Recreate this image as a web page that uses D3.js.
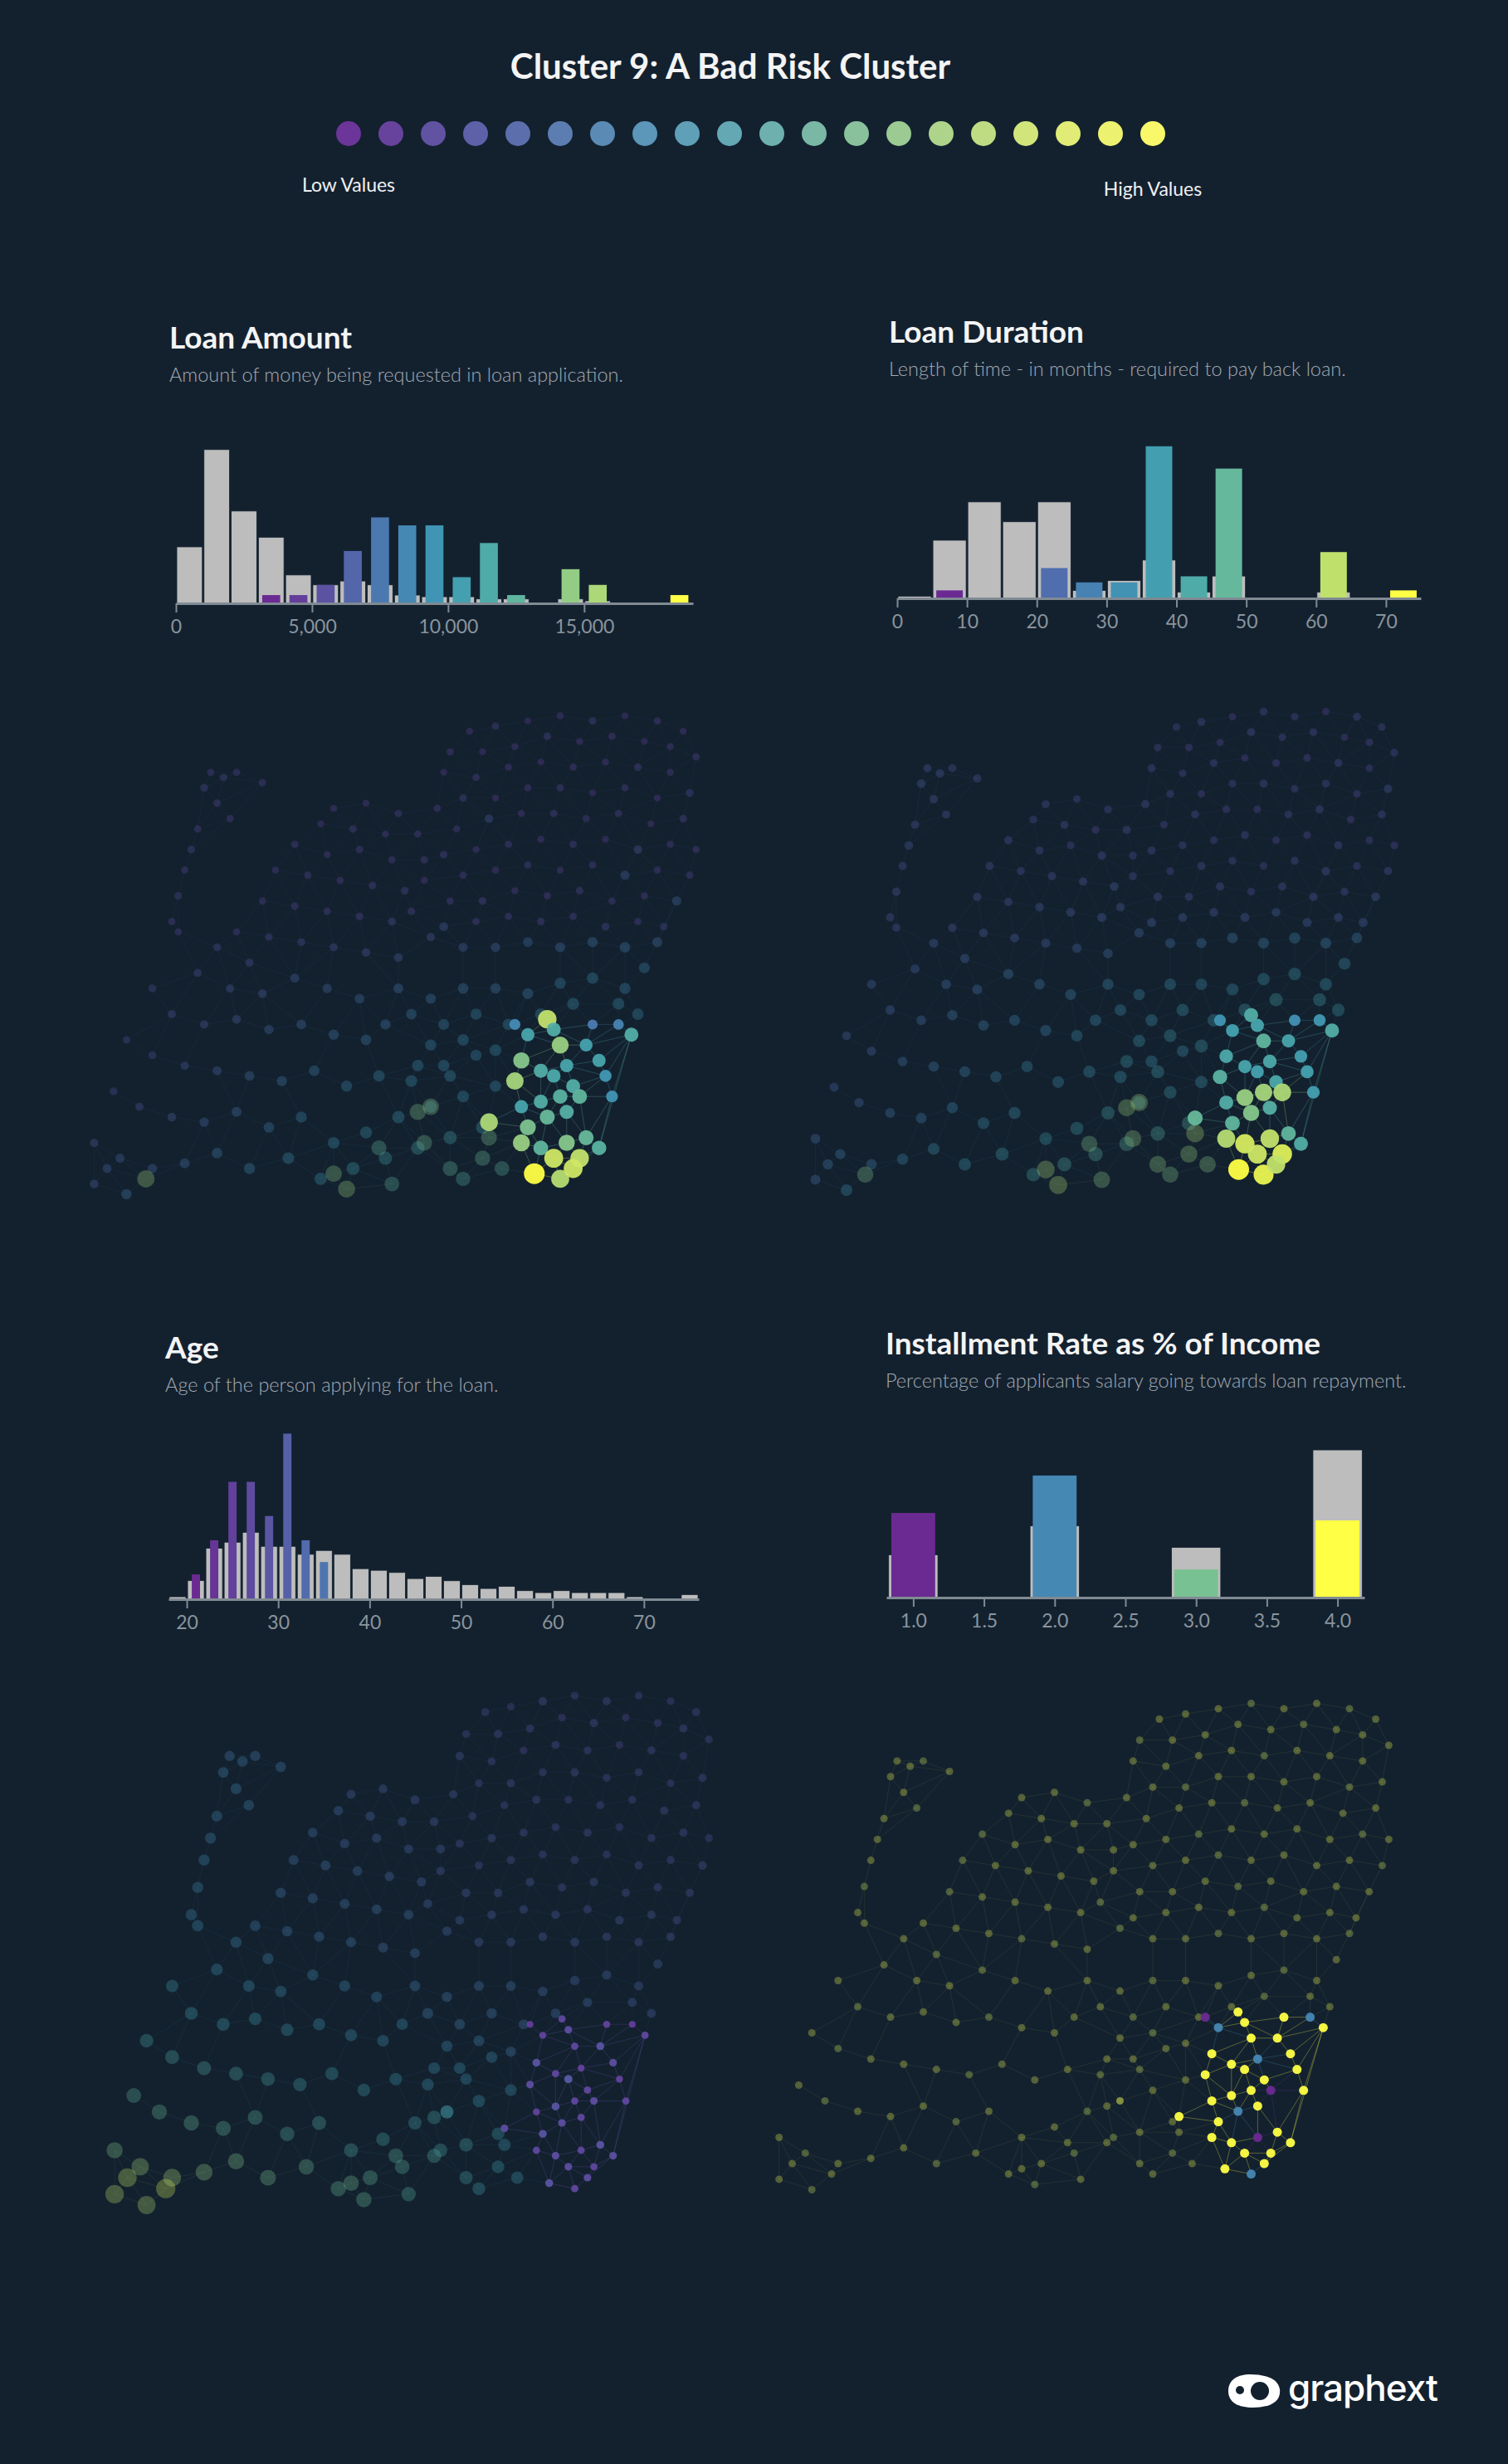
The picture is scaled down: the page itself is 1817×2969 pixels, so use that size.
<!DOCTYPE html>
<html><head><meta charset="utf-8">
<script src="https://cdn.jsdelivr.net/npm/d3@7"></script>
<style>body{margin:0;background:#13212f;}svg{display:block;}</style>
</head><body>
<script>
// ---------- DATA ----------
const titleText = "Cluster 9: A Bad Risk Cluster";
const legendSteps = d3.range(20);
// Loan amount: bins of 1000
const amountBins = d3.range(19).map(k => k * 1000);
const amountAll =     [205,558,335,240,103,67,81,67,30,24,24,16,16,0,16,9,0,0,0];
const amountCluster = [0,0,0,30,30,67,190,312,283,283,95,219,30,0,124,67,0,0,30];
const amountTicks = [0,5000,10000,15000];
// Loan duration: bins of 5 months
const durationBins = d3.range(15).map(k => k * 5);
const durationAll =     [8,211,350,278,350,29,65,139,23,81,0,0,23,0,0];
const durationCluster = [0,29,0,0,110,58,58,552,80,471,0,0,168,0,29];
const durationTicks = [0,10,20,30,40,50,60,70];
// Age: bins of 2 years from 18
const ageBins = d3.range(18, 76, 2);
const ageAll =     [9,68,185,207,243,192,192,163,177,163,111,105,97,75,83,67,53,39,47,31,24,31,24,24,24,9,0,0,17];
const ageCluster = [0,90,214,426,426,302,601,214,135,0,0,0,0,0,0,0,0,0,0,0,0,0,0,0,0,0,0,0,0];
const ageTicks = [20,30,40,50,60,70];
// Installment rate
const rateCats = [1,2,3,4];
const rateAll =     [155,260,182,536];
const rateCluster = [307,443,102,280];
const rateTicks = [1.0,1.5,2.0,2.5,3.0,3.5,4.0];

// Network nodes: [u, v, amount, duration, age, rate] (0-100 layout units, values 0-1)
const nodesBase = [
[61,5,.08,.12,.15,.95],[65,4,.10,.15,.12,.95],[70,3,.06,.10,.18,.95],[75,2,.09,.14,.14,.9],[80,3,.12,.12,.16,.95],[85,2,.07,.10,.13,.95],[90,3,.10,.15,.12,.9],[94,5,.08,.12,.15,.95],[96,10,.11,.14,.14,.95],[92,8,.09,.12,.16,.95],
[88,7,.07,.10,.14,.95],[83,6,.10,.14,.12,.9],[78,7,.08,.12,.17,.95],[73,6,.12,.16,.13,.95],[68,8,.09,.11,.15,.95],[63,9,.07,.13,.16,.95],[58,9,.10,.12,.14,.9],[57,13,.08,.15,.18,.95],[62,14,.11,.12,.15,.95],[67,12,.09,.14,.13,.95],
[72,11,.07,.10,.16,.95],[77,12,.10,.13,.14,.9],[82,11,.08,.12,.12,.95],[87,12,.12,.15,.15,.95],[92,13,.09,.11,.14,.95],[95,17,.14,.18,.16,.95],[90,18,.08,.12,.13,.9],[85,16,.10,.14,.15,.95],[80,17,.07,.12,.14,.95],[75,16,.11,.15,.17,.95],
[70,16,.09,.13,.15,.95],[65,18,.08,.11,.16,.9],[60,18,.12,.14,.14,.95],[56,20,.10,.16,.18,.95],[59,24,.09,.12,.15,.95],[64,22,.18,.15,.14,.95],[69,21,.08,.13,.16,.95],[74,21,.11,.12,.13,.9],[79,22,.09,.14,.15,.95],[84,21,.10,.16,.14,.95],
[89,23,.08,.12,.17,.95],[94,22,.12,.15,.15,.95],[96,28,.10,.13,.14,.95],[92,27,.09,.12,.16,.9],[87,28,.18,.16,.15,.95],[82,26,.08,.13,.14,.95],[77,27,.11,.12,.17,.95],[72,26,.09,.15,.15,.95],[67,27,.10,.12,.16,.9],[62,28,.08,.14,.18,.95],
[57,29,.12,.15,.16,.95],[60,33,.10,.13,.15,.95],[65,32,.09,.16,.17,.95],[70,31,.11,.14,.15,.9],[75,32,.08,.12,.16,.95],[80,31,.10,.15,.14,.95],[85,33,.22,.18,.16,.95],[90,32,.09,.13,.15,.95],[95,33,.11,.16,.18,.9],[93,38,.24,.20,.16,.95],
[88,37,.10,.15,.17,.95],[83,38,.09,.18,.16,.95],[78,36,.12,.16,.18,.95],[73,37,.10,.14,.17,.9],[68,36,.09,.17,.19,.95],[63,38,.13,.16,.18,.95],[58,38,.10,.18,.20,.95],[54,34,.09,.15,.19,.95],[52,40,.12,.19,.22,.9],[57,43,.20,.22,.21,.95],
[62,42,.11,.20,.20,.95],[67,41,.10,.19,.19,.95],[72,42,.12,.21,.18,.95],[77,41,.11,.20,.17,.9],[82,43,.13,.22,.19,.95],[87,42,.10,.20,.18,.95],[91,43,.12,.22,.17,.95],
[40,20,.09,.15,.22,.95],[45,19,.08,.12,.20,.95],[50,21,.11,.14,.21,.9],[53,25,.10,.16,.20,.95],[48,25,.09,.13,.22,.95],[43,24,.12,.15,.24,.95],[38,23,.08,.14,.25,.95],[34,27,.10,.16,.26,.9],[39,29,.09,.15,.24,.95],[44,28,.11,.13,.23,.95],
[49,30,.10,.17,.22,.95],[54,30,.12,.14,.21,.95],[31,32,.09,.16,.28,.9],[36,33,.11,.15,.27,.95],[41,34,.10,.17,.26,.95],[46,35,.12,.18,.25,.95],[51,36,.14,.20,.24,.95],[29,38,.10,.18,.30,.9],[34,39,.12,.17,.29,.95],[39,40,.11,.19,.28,.95],
[44,41,.13,.20,.27,.95],[49,42,.15,.22,.26,.95],[55,45,.18,.24,.24,.9],[25,44,.10,.18,.32,.95],[30,45,.12,.20,.31,.95],[35,46,.14,.21,.30,.95],[40,47,.16,.22,.29,.9],[45,48,.18,.24,.28,.95],[50,49,.20,.26,.27,.95],[60,47,.22,.28,.22,.95],
[65,47,.24,.30,.21,.95],[70,46,.26,.32,.20,.9],[75,47,.28,.34,.20,.95],[80,46,.30,.36,.19,.95],[85,47,.32,.34,.18,.95],[90,46,.28,.32,.19,.9],
[21,13,.10,.16,.30,.95],[23,14,.12,.18,.32,.95],[25,13,.10,.15,.30,.9],[29,15,.11,.17,.31,.95],[20,16,.14,.20,.33,.95],[22,19,.12,.18,.34,.95],[24,22,.10,.16,.32,.9],[19,24,.11,.17,.34,.95],[18,28,.13,.19,.35,.95],[17,32,.10,.16,.36,.95],
[16,37,.12,.18,.36,.9],[15,42,.11,.17,.37,.95],[16,44,.10,.16,.38,.95],
[22,47,.14,.22,.36,.95],[27,50,.16,.24,.35,.9],[19,52,.15,.22,.40,.95],[24,55,.18,.26,.40,.95],[29,56,.20,.28,.38,.95],[34,53,.22,.30,.36,.9],[39,55,.24,.32,.35,.95],[44,57,.26,.34,.34,.95],[12,55,.14,.22,.45,.95],[15,60,.16,.24,.48,.9],
[20,62,.18,.26,.48,.95],[25,61,.20,.30,.46,.95],[30,63,.24,.32,.45,.95],[35,62,.26,.34,.43,.9],[40,64,.30,.36,.42,.95],[45,65,.32,.38,.40,.95],[8,65,.12,.20,.52,.95],[12,68,.14,.22,.55,.9],[17,70,.18,.26,.56,.95],[22,71,.22,.30,.55,.95],
[27,72,.26,.34,.53,.95],[32,73,.30,.36,.51,.9],[37,71,.32,.38,.48,.95],[42,74,.36,.40,.47,.95],[47,72,.38,.42,.45,.95],[52,73,.40,.44,.42,.9],[57,70,.38,.42,.40,.95],[62,68,.36,.40,.38,.95],[6,75,.14,.22,.60,.95],[10,78,.16,.24,.63,.9],
[15,80,.20,.28,.64,.95],[20,81,.24,.32,.62,.95],[25,79,.28,.36,.60,.95],[30,82,.32,.40,.58,.9],[35,80,.36,.42,.56,.95],[40,85,.40,.46,.55,.95],[45,83,.42,.48,.52,.95],[50,80,.44,.50,.50,.9],[55,78,.42,.48,.47,.95],[60,76,.40,.46,.44,.95],
[65,74,.38,.44,.40,.95],[3,85,.18,.26,.70,.95],[7,88,.22,.30,.78,.9],[12,90,.24,.32,.80,.95],[17,89,.28,.36,.74,.95],[22,87,.32,.40,.70,.95],[27,90,.36,.44,.68,.9],[33,88,.40,.48,.65,.95],[38,92,.44,.52,.64,.95],[43,90,.48,.55,.62,.95],
[48,88,.50,.58,.60,.9],[53,86,.52,.60,.56,.95],[58,84,.50,.58,.52,.95],[63,82,.48,.56,.46,.95],[3,93,.20,.28,.85,.95],[8,95,.30,.40,.82,.9],[5,90,.22,.30,.86,.95],[11,92,.78,.70,.90,.95],
[50,55,.28,.36,.32,.95],[55,57,.30,.38,.30,.95],[60,55,.32,.40,.28,.9],[65,55,.30,.38,.27,.95],[70,56,.34,.42,.25,.95],[75,54,.36,.44,.24,.95],[80,53,.38,.46,.23,.9],[85,55,.36,.44,.22,.95],[88,51,.34,.42,.22,.95],[52,60,.32,.40,.34,.95],
[57,62,.34,.42,.32,.9],[62,60,.36,.44,.30,.95],[67,62,.38,.46,.28,.95],[72,60,.40,.48,.26,.95],[77,58,.42,.50,.24,.9],[84,58,.40,.48,.22,.95],[87,60,.38,.46,.22,.95],[55,66,.36,.44,.36,.95],[60,65,.38,.46,.34,.9],[65,67,.40,.48,.30,.95],
[48,62,.30,.38,.38,.95],[53,70,.38,.46,.40,.95],[58,72,.40,.48,.38,.9],
[40,91,.72,.80,.66,.95],[42,94,.76,.82,.64,.9],[47,86,.62,.70,.60,.95],[49,93,.60,.72,.58,.95],[53,79,.70,.76,.52,.95],[54,85,.66,.74,.52,.9],[55,78,.72,.78,.50,.95],[58,90,.62,.74,.50,.95],[60,92,.58,.70,.48,.95],[63,88,.64,.76,.46,.9],
[66,90,.60,.72,.44,.95],[64,84,.68,.80,.44,.95]
];
const clusterNodes = [
[73,61,.85,.55,.10,1],[74,63,.55,.50,.12,1],[70,64,.50,.48,.08,.33],[75,66,.75,.60,.10,1],[69,69,.70,.52,.14,1],[68,73,.78,.58,.12,1],[72,71,.55,.50,.10,1],[74,72,.52,.48,.16,1],[76,70,.50,.52,.08,.33],[79,66,.48,.50,.14,1],
[81,69,.50,.46,.12,1],[77,74,.55,.52,.10,1],[78,76,.60,.80,.12,0],[75,76,.58,.78,.10,1],[72,77,.55,.75,.14,1],[69,78,.50,.55,.08,1],[73,80,.62,.70,.12,.33],[76,79,.56,.56,.10,1],[70,82,.68,.60,.14,1],[64,81,.80,.62,.12,1],
[69,85,.75,.82,.10,1],[72,86,.60,.90,.12,1],[76,85,.70,.85,.10,0],[79,84,.62,.60,.14,1],[81,86,.58,.55,.12,1],[78,88,.85,.92,.10,1],[74,88,.88,.88,.12,1],[71,91,1.0,1.0,.14,1],[75,92,.82,.95,.10,.33],[77,90,.88,.85,.12,1],
[68,62,.35,.40,.06,0],[80,62,.28,.38,.08,1],[84,62,.32,.42,.06,.33],[86,64,.55,.55,.10,1],[82,72,.42,.48,.08,1],[83,76,.40,.46,.10,1]
];

// ---------- DRAW ----------
const W = 1817, H = 2969;
const bg = "#13212f";
const svg = d3.select("body").append("svg").attr("width", W).attr("height", H);
svg.append("rect").attr("width", W).attr("height", H).attr("fill", bg);
const font = "Lato, 'Noto Sans', sans-serif";
const pal = d3.interpolateRgbBasis(["#6b2a92","#5a55a3","#4a7fb4","#3b9bb6","#52b0a4","#8bc98a","#c3e26a","#ffff45"]);
const legendPal = d3.interpolateRgbBasis(["#6c3599","#5d5ca5","#5b85b4","#5ba3bc","#74b6a8","#a5d08c","#d9e878","#f8f86a"]);

svg.append("text").attr("x", 880).attr("y", 95).attr("text-anchor","middle")
  .attr("fill","#f4f4f4").attr("font-family",font).attr("font-weight",700).attr("font-size",42).text(titleText);
const lx = d3.scaleLinear().domain([0,19]).range([420,1389]);
svg.selectAll("circle.leg").data(legendSteps).join("circle").attr("class","leg")
  .attr("cx", d=>lx(d)).attr("cy",161).attr("r",15).attr("fill", d=>legendPal(d/19));
svg.append("text").attr("x",420).attr("y",231).attr("text-anchor","middle").attr("fill","#f0f0f0")
  .attr("font-family",font).attr("font-size",23).text("Low Values");
svg.append("text").attr("x",1389).attr("y",236).attr("text-anchor","middle").attr("fill","#f0f0f0")
  .attr("font-family",font).attr("font-size",23).text("High Values");

function header(x, y, t, s){
  svg.append("text").attr("x",x).attr("y",y).attr("fill","#f4f4f4").attr("font-family",font)
    .attr("font-weight",700).attr("font-size",37).text(t);
  svg.append("text").attr("x",x).attr("y",y+40).attr("fill","#a3aab1").attr("font-family",font)
    .attr("font-weight",300).attr("font-size",23.5).text(s);
}
const yk = 0.332;
function hist(opt){
  const g = svg.append("g");
  const x = d3.scaleLinear().domain(opt.domain).range(opt.range);
  const y = d3.scaleLinear().domain([0,600]).range([opt.base, opt.base - 600*yk]);
  const col = d3.scaleLinear().domain(opt.colDomain).range([0,1]).clamp(true);
  g.selectAll("rect.all").data(opt.bins).join("rect")
    .attr("x", (d,i)=>x(opt.left(d))+1).attr("width", d=>x(opt.left(d)+opt.w)-x(opt.left(d))-2)
    .attr("y", (d,i)=>y(opt.all[i])).attr("height",(d,i)=>opt.base-y(opt.all[i]))
    .attr("fill","#bdbdbd").attr("stroke", "#13212f").attr("stroke-width",0.8);
  g.selectAll("rect.cl").data(opt.bins).join("rect")
    .attr("x", d=>x(opt.left(d)+opt.inset)).attr("width", d=>x(opt.left(d)+opt.w-opt.inset)-x(opt.left(d)+opt.inset))
    .attr("y", (d,i)=>y(opt.cl[i])).attr("height",(d,i)=>opt.base-y(opt.cl[i]))
    .attr("fill", d=>pal(col(d))).attr("display",(d,i)=>opt.cl[i]>0?null:"none");
  const ax = g.append("g").attr("transform",`translate(0,${opt.base})`)
    .call(d3.axisBottom(x).tickValues(opt.ticks).tickFormat(opt.fmt).tickSize(11).tickSizeOuter(0));
  ax.select(".domain").attr("stroke","#808a93").attr("stroke-width",3);
  ax.selectAll(".tick line").attr("stroke","#808a93").attr("stroke-width",2);
  ax.selectAll(".tick text").attr("fill","#8a949c").attr("font-family",font).attr("font-size",23).attr("dy","0.95em");
}
header(204, 420, "Loan Amount", "Amount of money being requested in loan application.");
hist({bins:amountBins, all:amountAll, cl:amountCluster, domain:[0,19000], range:[212,835], base:727,
  left:d=>d, w:1000, inset:170, colDomain:[3000,18000], ticks:amountTicks, fmt:d3.format(",")});
header(1071, 413, "Loan Duration", "Length of time - in months - required to pay back loan.");
hist({bins:durationBins, all:durationAll, cl:durationCluster, domain:[0,75], range:[1081,1712], base:721,
  left:d=>d, w:5, inset:0.6, colDomain:[5,70], ticks:durationTicks, fmt:d3.format("d")});
header(199, 1637, "Age", "Age of the person applying for the loan.");
hist({bins:ageBins, all:ageAll, cl:ageCluster, domain:[18,76], range:[203,842], base:1927,
  left:d=>d, w:2, inset:0.55, colDomain:[20,75], ticks:ageTicks, fmt:d3.format("d")});
header(1067, 1632, "Installment Rate as % of Income", "Percentage of applicants salary going towards loan repayment.");
hist({bins:rateCats, all:rateAll, cl:rateCluster, domain:[0.81,4.19], range:[1068,1644], base:1925,
  left:d=>d-0.18, w:0.36, inset:0.025, colDomain:[1,4], ticks:rateTicks, fmt:d3.format(".1f")});

// Networks
const allNodes = nodesBase.map(n=>({u:n[0],v:n[1],vals:n.slice(2),c:0}))
  .concat(clusterNodes.map(n=>({u:n[0],v:n[1],vals:n.slice(2),c:1})));
const del = d3.Delaunay.from(allNodes, d=>d.u, d=>d.v);
const edges = [];
for (let i=0;i<allNodes.length;i++){
  for (const j of del.neighbors(i)){
    if (j>i){
      const a=allNodes[i], b=allNodes[j];
      if (Math.hypot(a.u-b.u,a.v-b.v) < 9 || (a.c && b.c)) edges.push([i,j]);
    }
  }
}
function network(box, attr, sizeMode){
  const g = svg.append("g");
  const x = d3.scaleLinear().domain([0,100]).range([box[0], box[0]+box[2]]);
  const y = d3.scaleLinear().domain([0,100]).range([box[1], box[1]+box[3]]);
  const rad = d => sizeMode==="flat" ? (d.c?5.5:4.5) : 3.5 + 9*d.vals[attr];
  g.selectAll("line").data(edges).join("line")
    .attr("x1",e=>x(allNodes[e[0]].u)).attr("y1",e=>y(allNodes[e[0]].v))
    .attr("x2",e=>x(allNodes[e[1]].u)).attr("y2",e=>y(allNodes[e[1]].v))
    .attr("stroke", e=>pal(allNodes[e[0]].vals[attr]))
    .attr("stroke-opacity", e=>(allNodes[e[0]].c && allNodes[e[1]].c)?0.3:0.08).attr("stroke-width",1);
  const order = allNodes.slice().sort((a,b)=>a.c-b.c);
  g.selectAll("circle").data(order).join("circle")
    .attr("cx",d=>x(d.u)).attr("cy",d=>y(d.v)).attr("r",rad)
    .attr("fill",d=>pal(d.vals[attr])).attr("fill-opacity",d=>d.c?0.95:0.3);
}
network([90,850,780,620], 0, "size");
network([960,845,750,620], 1, "size");
network([115,2030,770,660], 2, "size");
network([915,2040,790,630], 3, "flat");

// logo
const lg = svg.append("g").attr("transform","translate(1482,2881)");
lg.append("path").attr("d","M-2,0 C-2,-14 10,-20 24,-20 C40,-20 58,-16 60,-2 C62,14 46,20 28,20 C10,20 -2,14 -2,0 Z").attr("fill","#ffffff");
lg.append("circle").attr("cx",12).attr("cy",-1).attr("r",5).attr("fill",bg);
lg.append("circle").attr("cx",36).attr("cy",0).attr("r",11).attr("fill",bg);
svg.append("text").attr("x",1552).attr("y",2893).attr("fill","#ffffff").attr("font-family","Inter, 'Open Sans', sans-serif")
  .attr("font-weight",500).attr("font-size",44).attr("letter-spacing",-1).text("graphext");
</script>
</body></html>
